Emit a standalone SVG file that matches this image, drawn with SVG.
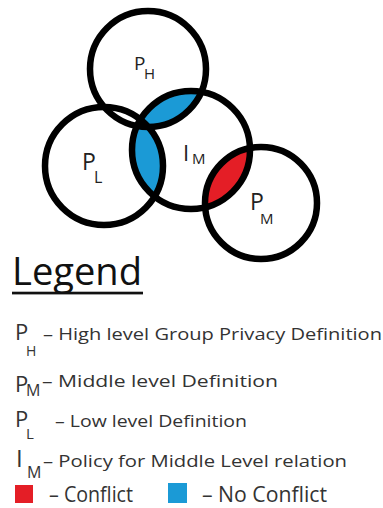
<svg xmlns="http://www.w3.org/2000/svg" width="383" height="508" viewBox="0 0 383 508">
<style>
.ring{fill:none;stroke:#000;stroke-width:6.5}
.lbl{font-family:"Open Sans","Liberation Sans",sans-serif;fill:#222}
.lg{font-family:"Open Sans","Liberation Sans",sans-serif;fill:#333}
</style>
<defs>
<clipPath id="clipIM"><circle cx="191" cy="150" r="59"/></clipPath>
</defs>
<rect width="383" height="508" fill="#fff"/>
<g id="overlaps" clip-path="url(#clipIM)">
<circle cx="148" cy="69" r="58" fill="#1b9ad6"/>
<circle cx="104" cy="166" r="59" fill="#1b9ad6"/>
<circle cx="261" cy="203" r="56" fill="#e41e26"/>
</g>
<g id="PH">
<circle class="ring" cx="148" cy="69" r="58"/>
<text class="lbl"><tspan x="134" y="70" font-size="19">P</tspan><tspan x="144" y="79" font-size="15">H</tspan></text>
</g>
<g id="PL">
<circle class="ring" cx="104" cy="166" r="59"/>
<text class="lbl"><tspan x="82" y="170" font-size="23">P</tspan><tspan x="94" y="183" font-size="16">L</tspan></text>
</g>
<g id="IM">
<circle class="ring" cx="191" cy="150" r="59"/>
<text class="lbl"><tspan x="183" y="161" font-size="22">I</tspan><tspan x="192" y="164" font-size="15">M</tspan></text>
</g>
<g id="PM">
<circle class="ring" cx="261" cy="203" r="56"/>
<text class="lbl"><tspan x="250" y="210" font-size="23">P</tspan><tspan x="260" y="224" font-size="15">M</tspan></text>
</g>
<g id="legend">
<text x="12" y="285" font-family="Open Sans,Liberation Sans,sans-serif" font-size="39" fill="#111" textLength="130" lengthAdjust="spacingAndGlyphs">Legend</text>
<rect x="12" y="291.7" width="131" height="2.7" fill="#111"/>
<text class="lg" x="15" y="340" font-size="22" fill="#111">P</text>
<text class="lg" x="26" y="356" font-size="14">H</text>
<text class="lg" x="43" y="340" font-size="16" textLength="339" lengthAdjust="spacingAndGlyphs">– High level Group Privacy Definition</text>
<text class="lg" x="15" y="392" font-size="22">P</text>
<text class="lg" x="26" y="396" font-size="16">M</text>
<text class="lg" x="42" y="387" font-size="16" textLength="236" lengthAdjust="spacingAndGlyphs">– Middle level Definition</text>
<text class="lg" x="15" y="427" font-size="22">P</text>
<text class="lg" x="26" y="439" font-size="15">L</text>
<text class="lg" x="55" y="427" font-size="16" textLength="192" lengthAdjust="spacingAndGlyphs">– Low level Definition</text>
<text class="lg" x="16" y="467" font-size="24">I</text>
<text class="lg" x="27" y="478" font-size="16">M</text>
<text class="lg" x="43" y="467" font-size="16" textLength="304" lengthAdjust="spacingAndGlyphs">– Policy for Middle Level relation</text>
<rect x="15" y="485" width="18" height="18" fill="#e41e26"/>
<text class="lg" x="49" y="502" font-size="22" textLength="84" lengthAdjust="spacingAndGlyphs">– Conflict</text>
<rect x="168" y="483" width="19" height="20" fill="#1b9ad6"/>
<text class="lg" x="202" y="502" font-size="22" textLength="125" lengthAdjust="spacingAndGlyphs">–  No Conflict</text>
</g>
</svg>
